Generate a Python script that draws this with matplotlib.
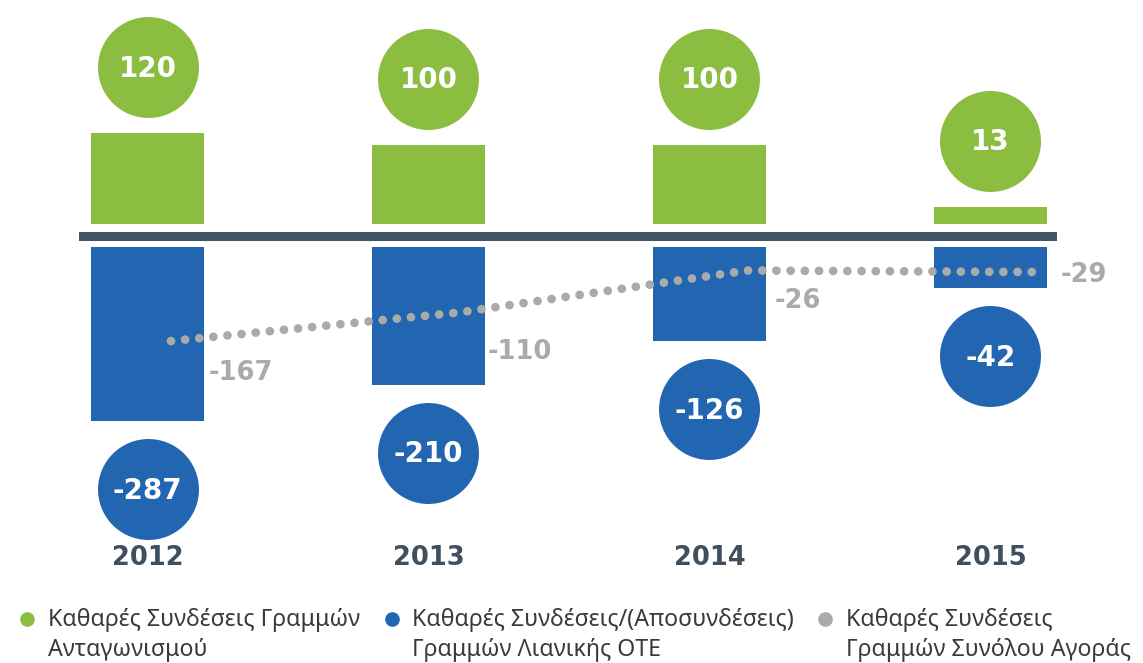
import matplotlib.pyplot as plt
from matplotlib.lines import Line2D
from matplotlib.legend_handler import HandlerLine2D
from matplotlib.transforms import offset_copy
import numpy as np

years = ["2012", "2013", "2014", "2015"]
competition_net = [120, 100, 100, 13]
ote_net = [-287, -210, -126, -42]
market_net = [-167, -110, -26, -29]

legend_labels = [
    "Καθαρές Συνδέσεις Γραμμών\nΑνταγωνισμού",
    "Καθαρές Συνδέσεις/(Αποσυνδέσεις)\nΓραμμών Λιανικής ΟΤΕ",
    "Καθαρές Συνδέσεις\nΓραμμών Συνόλου Αγοράς",
]

GREEN = "#8bbd40"
BLUE = "#2265b0"
GREY = "#aaaaaa"
DARK = "#435464"
TEXT = "#3a3a3a"


class FirstLineHandler(HandlerLine2D):
    # put the legend dot next to the first line of a two-line label
    def create_artists(self, legend, orig_handle, xdescent, ydescent, width, height, fontsize, trans):
        artists = super().create_artists(legend, orig_handle, xdescent, ydescent,
                                         width, height, fontsize, trans)
        for a in artists:
            a.set_ydata(np.asarray(a.get_ydata()) + 12)
        return artists


W, H = 1143, 663
fig = plt.figure(figsize=(W / 100, H / 100), dpi=100)

# axes spans the baseline width, top of figure down to the year labels
left_px, right_px, bottom_px = 79, 1057, 530
rect = [left_px / W, 1 - bottom_px / H, (right_px - left_px) / W, bottom_px / H]
ax = fig.add_axes(rect)

# bars use a power scale (the original drawing is not linear)
p = 0.75
fwd = lambda v: np.sign(v) * np.abs(v) ** p
inv = lambda v: np.sign(v) * np.abs(v) ** (1 / p)
ax.set_yscale("function", functions=(fwd, inv))
zero_px, k = 235.5, 2.5
ax.set_ylim(inv(-(bottom_px - zero_px) / k), inv(zero_px / k))

x = np.arange(len(years))
ax.set_xlim((left_px - 147.5) / 281, (right_px - 147.5) / 281)

up = offset_copy(ax.transData, fig, y=11.5, units="dots")
down = offset_copy(ax.transData, fig, y=-11.5, units="dots")
ax.bar(x, competition_net, width=0.4, color=GREEN, transform=up)
ax.bar(x, ote_net, width=0.4, color=BLUE, transform=down)
ax.axhline(0, color=DARK, lw=6.5, zorder=3)

c_up = offset_copy(ax.transData, fig, y=77.5, units="dots")
c_down = offset_copy(ax.transData, fig, y=-79.5, units="dots")
ax.plot(x, competition_net, "o", ms=72.7, color=GREEN, mec="none", transform=c_up, clip_on=False)
ax.plot(x, ote_net, "o", ms=72.7, color=BLUE, mec="none", transform=c_down, clip_on=False)
for xi, v in zip(x, competition_net):
    ax.annotate(str(v), (xi, v), xytext=(0, 79), textcoords="offset pixels",
                ha="center", va="center_baseline", color="white", fontsize=20, fontweight="heavy")
for xi, v in zip(x, ote_net):
    ax.annotate(str(v), (xi, v), xytext=(0, -78), textcoords="offset pixels",
                ha="center", va="center_baseline", color="white", fontsize=20, fontweight="heavy")

ax.set_xticks(x, years)
ax.tick_params(axis="x", length=0, pad=11, labelsize=18.5, labelcolor="#3f4f5e")
for lbl in ax.get_xticklabels():
    lbl.set_fontweight("bold")
ax.set_yticks([])
for s in ax.spines.values():
    s.set_visible(False)
ax.patch.set_alpha(0)

# market total line on its own overlay axes
ax2 = fig.add_axes(rect)
ax2.axis("off")
ax2.set_xlim((left_px - 171) / 288, (right_px - 171) / 288)
ax2.set_ylim((257.5 - bottom_px) / 0.5, 257.5 / 0.5)
ax2.plot(x, market_net, color=GREY, lw=6.3, linestyle=(0, (0.001, 1.62)),
         dash_capstyle="round")
label_offsets = [(38, -29.5), (29, -36.5), (28, -27.5), (26, 0)]
for xi, v, off in zip(x, market_net, label_offsets):
    ax2.annotate(str(v), (xi, v), xytext=off, textcoords="offset pixels",
                 ha="left", va="center_baseline", color=GREY, fontsize=18.5, fontweight="bold")

handles = [Line2D([], [], marker="o", ls="", color=c, ms=9.5) for c in (GREEN, BLUE, GREY)]
leg = fig.legend(handles, legend_labels, ncol=3, loc="upper left", bbox_to_anchor=(0.0096, 0.0965),
                 frameon=False, labelcolor=TEXT, handlelength=0.6,
                 handletextpad=0.6, columnspacing=1.05, borderaxespad=0,
                 handler_map={Line2D: FirstLineHandler()},
                 prop={"family": "Noto Sans", "size": 16.7})
for t in leg.get_texts():
    t.set_linespacing(1.3)

plt.savefig("out.png", dpi=100)
